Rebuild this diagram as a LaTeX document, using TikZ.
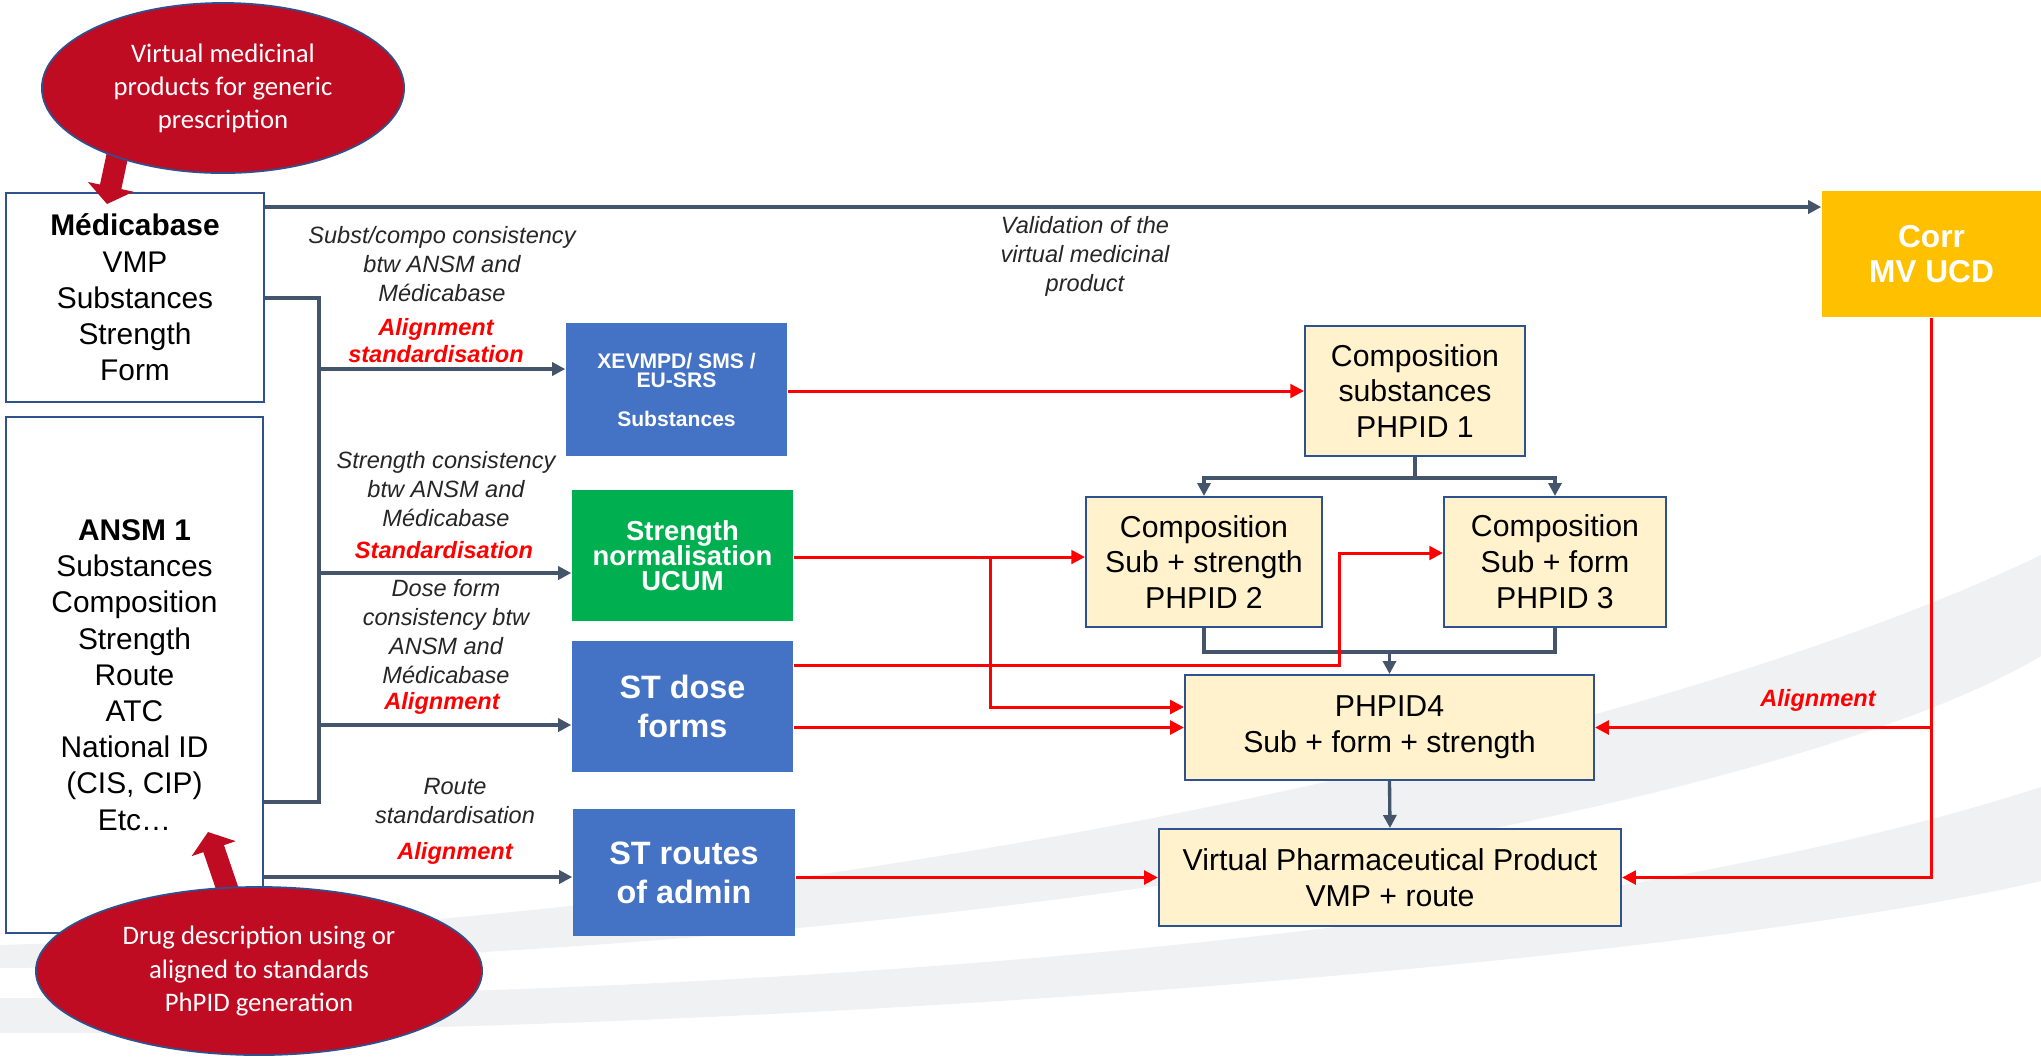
\documentclass[tikz,border=0pt]{standalone}
\usepackage{fontspec}
\setmainfont{Liberation Sans}
\newfontfamily\calibri{Carlito}
\usetikzlibrary{arrows.meta,shapes.geometric}

\definecolor{stdblue}{RGB}{68,114,196}
\definecolor{ucumgreen}{RGB}{0,176,80}
\definecolor{corrgold}{RGB}{255,192,0}
\definecolor{cream}{RGB}{255,242,204}
\definecolor{edgeblue}{RGB}{47,82,143}
\definecolor{slate}{RGB}{68,84,106}
\definecolor{bubblered}{RGB}{192,12,34}
\definecolor{swoosh}{RGB}{240,241,243}

\newcommand\tightlines{\lineskiplimit=-5pt\relax}

\begin{document}
\begin{tikzpicture}[x=0.01cm, y=-0.01cm]
	\tikzstyle{srcbox}     = [rectangle, draw=edgeblue, line width=0.55pt, fill=white, align=center, inner sep=0pt, font=\fontsize{8.5}{10.3}\selectfont]
	\tikzstyle{stdbox}     = [rectangle, fill=stdblue, text=white, align=center, inner sep=0pt, minimum width=2.21cm, minimum height=1.31cm, font=\bfseries\fontsize{9.2}{11.1}\selectfont]
	\tikzstyle{phbox}      = [rectangle, draw=edgeblue, line width=0.55pt, fill=cream, align=center, inner sep=0pt, minimum height=1.3cm, font=\fontsize{8.6}{10.2}\selectfont]
	\tikzstyle{bubble}     = [ellipse, draw=edgeblue, line width=0.5pt, fill=bubblered, text=white, align=center, inner sep=0pt, font=\calibri\fontsize{7.6}{9.4}\selectfont]
	\tikzstyle{note}       = [align=center, inner sep=0pt, text=black!85, font=\itshape\fontsize{6.7}{8.2}\selectfont]
	\tikzstyle{rednote}    = [note, text=red, font=\bfseries\itshape\fontsize{6.7}{7.7}\selectfont]
	\tikzstyle{slateline}  = [draw=slate, line width=0.95pt]
	\tikzstyle{slatearrow} = [slateline, -{Triangle[length=3.7pt, width=3.7pt]}]
	\tikzstyle{redarrow}   = [draw=red, line width=0.85pt, -{Triangle[length=3.9pt, width=3.9pt]}]
	\tikzstyle{fatarrow}   = [draw=bubblered, line width=6.2pt, -{Triangle[length=5pt, width=13pt]}]

	\useasboundingbox (0,0) rectangle (2041,1056);
	\fill[white] (0,0) rectangle (2041,1056);

%	\draw[step=1cm, gray!50] (0,0) grid (2041,1056);

	% slide swooshes
	\fill[swoosh] (0,945) .. controls (900,920) and (1700,720) .. (2041,555) -- (2041,656) .. controls (1800,800) and (1000,960) .. (0,968) -- cycle;
	\fill[swoosh] (0,998) .. controls (800,1000) and (1600,930) .. (2041,787) -- (2041,881) .. controls (1700,960) and (800,1035) .. (0,1033) -- cycle;

	\node[srcbox, minimum width=2.58cm, minimum height=2.09cm] (med) at (135, 297.5) {\textbf{Médicabase}\\VMP\\Substances\\Strength\\Form};
	\node[srcbox, minimum width=2.57cm, minimum height=5.16cm] (ansm) at (134.5, 675) {\textbf{ANSM 1}\\Substances\\Composition\\Strength\\Route\\ATC\\National ID\\(CIS, CIP)\\Etc…};

	\node[stdbox, minimum height=1.33cm, font=\bfseries\fontsize{6}{5.4}\selectfont\tightlines] (xev) at (676.5, 389.5) {XEVMPD/ SMS /\\EU-SRS\\[5.7pt]Substances};
	\node[stdbox, fill=ucumgreen, font=\bfseries\fontsize{7.8}{7.2}\selectfont\tightlines] (ucum) at (682.5, 555.5) {Strength\\normalisation\\UCUM};
	\node[stdbox] (dose) at (682.5, 706.5) {ST dose\\forms};
	\node[stdbox, minimum width=2.22cm, minimum height=1.27cm] (routes) at (684, 872.5) {ST routes\\of admin};
	\node[stdbox, fill=corrgold, minimum width=2.19cm, minimum height=1.26cm, font=\bfseries\fontsize{9}{10}\selectfont] (corr) at (1931.5, 254) {Corr\\MV UCD};

	\node[phbox, minimum width=2.2cm] (ph1) at (1415, 391) {Composition\\substances\\PHPID 1};
	\node[phbox, minimum width=2.36cm] (ph2) at (1204, 562) {Composition\\Sub + strength\\PHPID 2};
	\node[phbox, minimum width=2.22cm] (ph3) at (1555, 562) {Composition\\Sub + form\\PHPID 3};
	\node[phbox, minimum width=4.09cm, minimum height=1.05cm] (ph4) at (1389.5, 727.5) {PHPID4\\Sub + form + strength};
	\node[phbox, minimum width=4.62cm, minimum height=0.97cm] (vpp) at (1390, 877.5) {Virtual Pharmaceutical Product\\VMP + route};

	\node[note] (substnote) at (442, 264) {Subst/compo consistency\\btw ANSM and\\Médicabase};
	\node[rednote] (substalign) at (436, 340.5) {Alignment\\standardisation};
	\node[note] (strnote) at (446, 489) {Strength consistency\\btw ANSM and\\Médicabase};
	\node[rednote] (stralign) at (444, 550) {Standardisation};
	\node[note] (dosenote) at (446, 631.5) {Dose form\\consistency btw\\ANSM and\\Médicabase};
	\node[rednote] (dosealign) at (442, 703) {Alignment};
	\node[note] (routenote) at (455, 801) {Route\\standardisation};
	\node[rednote] (routealign) at (455, 853) {Alignment};
	\node[note] (valnote) at (1085, 256.5) {Validation of the\\virtual medicinal\\product};
	\node[rednote] (corralign) at (1818, 700) {Alignment};

	% sources to standards
	\coordinate (bus) at (319, 298);
	\draw[slatearrow] (med.east |- 0,207) -- (corr.west |- 0,207);
	\draw[slateline] (med.east |- bus) -- (bus) -- (bus |- 0,802) -- (ansm.east |- 0,802);
	\foreach \target/\y in {xev/369, ucum/573, dose/725}
		\draw[slatearrow] (bus |- 0,\y) -- (\target.west |- 0,\y);
	\draw[slatearrow] (ansm.east |- 0,877) -- (routes.west |- 0,877);

	% PHPID levels
	\draw[slateline] (ph1.south) -- (ph1.south |- 0,478);
	\foreach \b in {ph2, ph3}
		\draw[slatearrow] (ph1.south |- 0,478) -| (\b.north);
	\foreach \b in {ph2, ph3}
		\draw[slateline] (\b.south) |- (ph4.north |- 0,652);
	\draw[slatearrow] (ph4.north |- 0,652) -- (ph4.north);
	\draw[slatearrow] (ph4.south) -- (vpp.north);

	% standards feeding PHPID
	\coordinate (ucumsplit) at (990, 557);
	\coordinate (dosebend) at (1339, 553);
	\draw[redarrow] (xev.east |- ph1.west) -- (ph1.west);
	\draw[redarrow] (ucum.east |- ucumsplit) -- (ph2.west |- ucumsplit);
	\draw[redarrow] (ucumsplit) |- (ph4.west |- 0,707);
	\draw[redarrow] (dose.east |- 0,665) -| (dosebend) -- (ph3.west |- dosebend);
	\draw[redarrow] (dose.east |- ph4.west) -- (ph4.west);
	\draw[redarrow] (routes.east |- vpp.west) -- (vpp.west);
	\draw[redarrow] (corr.south) |- (vpp.east);
	\draw[redarrow] (corr.south |- ph4.east) -- (ph4.east);

	% bubbles
	\coordinate (vmpfoot) at (126, 115);
	\coordinate (medtip) at (107, 204);
	\coordinate (drugfoot) at (238, 920);
	\coordinate (ansmtip) at (208, 832);
	\draw[fatarrow] (vmpfoot) -- (medtip);
	\draw[fatarrow] (drugfoot) -- (ansmtip);
	\node[bubble, minimum width=3.62cm, minimum height=1.7cm] (vmpbubble) at (223, 88) {Virtual medicinal\\products for generic\\prescription};
	\node[bubble, minimum width=4.46cm, minimum height=1.68cm] (drugbubble) at (259, 971) {Drug description using or\\aligned to standards\\PhPID generation};
\end{tikzpicture}
\end{document}
